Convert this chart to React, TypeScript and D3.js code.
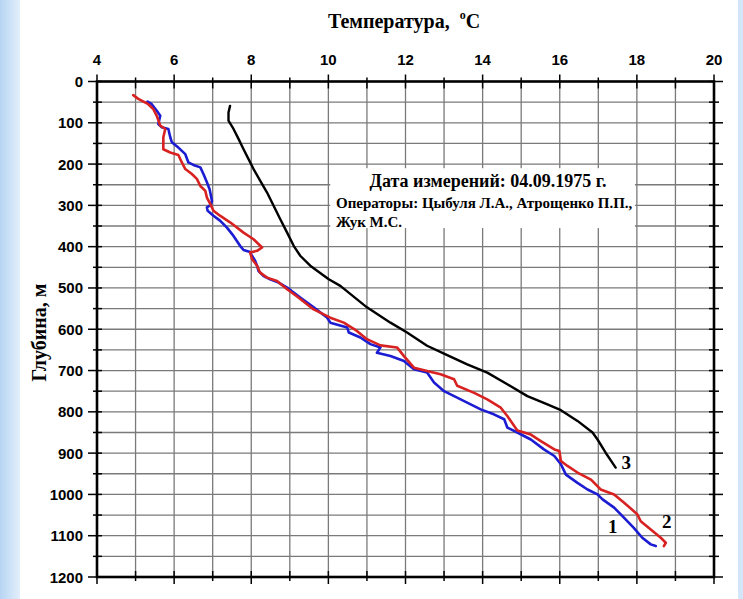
import React, { useEffect, useRef } from "react";
import * as d3 from "d3";

// Curve 1 (blue): [temperature °C, depth m]
const series1: [number, number][] = [
  [5.31, 49], [5.42, 55], [5.55, 71], [5.64, 83], [5.59, 103], [5.68, 111], [5.85, 115],
  [5.9, 135], [5.94, 147], [6.11, 160], [6.29, 176], [6.37, 196], [6.5, 202], [6.68, 208],
  [6.76, 224], [6.85, 244], [6.92, 261], [6.98, 289], [6.95, 299], [6.85, 305], [6.87, 313],
  [7.02, 325], [7.19, 337], [7.37, 354], [7.54, 374], [7.71, 398], [7.8, 408], [7.97, 413],
  [8.02, 422], [8.1, 434], [8.15, 446], [8.19, 459], [8.32, 471], [8.49, 479], [8.71, 487],
  [8.93, 499], [9.27, 523], [9.62, 547], [9.97, 572], [10.05, 584], [10.49, 596], [10.53, 608],
  [10.83, 620], [11.09, 636], [11.35, 644], [11.26, 657], [11.61, 665], [11.96, 677],
  [12.22, 697], [12.56, 705], [12.74, 729], [13.0, 750], [13.43, 770], [13.95, 794],
  [14.29, 806], [14.56, 818], [14.64, 838], [14.9, 850], [15.25, 867], [15.59, 891],
  [15.86, 907], [16.03, 927], [16.16, 952], [16.46, 972], [16.72, 988], [16.98, 1000],
  [17.11, 1012], [17.41, 1032], [17.67, 1057], [17.92, 1081], [18.14, 1105], [18.36, 1121],
  [18.49, 1125],
];

// Curve 2 (red)
const series2: [number, number][] = [
  [4.94, 33], [5.07, 42], [5.33, 55], [5.46, 67], [5.55, 83], [5.64, 107], [5.77, 115],
  [5.72, 135], [5.72, 164], [5.9, 172], [6.11, 178], [6.2, 196], [6.29, 212], [6.46, 224],
  [6.59, 236], [6.68, 253], [6.81, 265], [6.85, 281], [6.94, 297], [7.02, 313], [7.19, 325],
  [7.45, 341], [7.8, 366], [8.06, 382], [8.28, 402], [8.15, 410], [7.97, 414], [8.02, 430],
  [8.15, 446], [8.23, 463], [8.41, 475], [8.67, 483], [8.93, 503], [9.18, 520], [9.62, 552],
  [10.05, 572], [10.4, 584], [10.74, 604], [11.0, 624], [11.35, 639], [11.78, 644],
  [11.96, 665], [12.22, 693], [12.56, 701], [12.91, 709], [13.26, 721], [13.34, 737],
  [13.78, 754], [14.12, 770], [14.47, 790], [14.64, 810], [14.9, 845], [15.25, 855],
  [15.51, 871], [15.86, 891], [15.99, 895], [16.03, 919], [16.2, 931], [16.46, 947],
  [16.81, 964], [17.06, 988], [17.41, 1000], [17.67, 1020], [18.01, 1048], [18.1, 1065],
  [18.36, 1085], [18.62, 1105], [18.75, 1117], [18.7, 1125],
];

// Curve 3 (black)
const series3: [number, number][] = [
  [7.45, 59], [7.41, 75], [7.41, 95], [7.54, 115], [7.67, 139], [7.8, 164], [7.93, 188],
  [8.06, 212], [8.23, 240], [8.41, 269], [8.58, 301], [8.75, 333], [8.93, 366], [9.1, 398],
  [9.27, 422], [9.53, 446], [10.01, 479], [10.31, 495], [11.0, 547], [11.61, 584],
  [12.04, 608], [12.56, 640], [13.04, 661], [13.6, 685], [14.12, 705], [14.64, 733],
  [15.16, 762], [15.68, 782], [16.03, 796], [16.46, 822], [16.85, 850], [16.98, 867],
  [17.19, 899], [17.45, 935],
];

const tempTicks = [4, 6, 8, 10, 12, 14, 16, 18, 20];
const depthTicks = [0, 100, 200, 300, 400, 500, 600, 700, 800, 900, 1000, 1100, 1200];

const xTitle = "Температура,";
const yTitle = "Глубина, м";
const noteLines = [
  "Дата измерений: 04.09.1975 г.",
  "Операторы: Цыбуля Л.А., Атрощенко П.П.,",
  "Жук М.С.",
];
const curveLabels = [
  { text: "1", t: 17.25, d: 1093 },
  { text: "2", t: 18.65, d: 1081 },
  { text: "3", t: 17.6, d: 938 },
];

const W = 743;
const H = 599;

export default function App() {
  const ref = useRef<SVGSVGElement>(null);

  useEffect(() => {
    const svg = d3.select(ref.current);
    svg.selectAll("*").remove();

    const x = d3.scaleLinear().domain([4, 20]).range([97, 714]);
    const y = d3.scaleLinear().domain([0, 1200]).range([81.5, 577]);

    // background
    const defs = svg.append("defs");
    const grad = defs.append("linearGradient").attr("id", "bgL").attr("x1", 0).attr("x2", 1);
    grad.append("stop").attr("offset", 0).attr("stop-color", "#b7d5f3");
    grad.append("stop").attr("offset", 1).attr("stop-color", "#e3effb");
    svg.append("rect").attr("width", W).attr("height", H).attr("fill", "#ffffff");
    svg.append("rect").attr("x", 0).attr("y", 0).attr("width", 20).attr("height", H).attr("fill", "url(#bgL)");
    svg.append("rect").attr("x", 738).attr("y", 0).attr("width", 5).attr("height", H).attr("fill", "#d2e5f9");

    const minorT = d3.range(4, 21, 1);
    const minorD = d3.range(0, 1201, 50);

    // grid
    const grid = svg.append("g").attr("stroke", "#7a7a7a").attr("stroke-width", 1.3);
    grid.selectAll("line.v").data(minorT.slice(1, -1)).join("line")
      .attr("x1", (d) => x(d)).attr("x2", (d) => x(d))
      .attr("y1", y(0)).attr("y2", y(1200));
    grid.selectAll("line.h").data(minorD.slice(1, -1)).join("line")
      .attr("x1", x(4)).attr("x2", x(20))
      .attr("y1", (d) => y(d)).attr("y2", (d) => y(d));

    // ticks
    const ticks = svg.append("g").attr("stroke", "#000").attr("stroke-width", 1.5);
    ticks.selectAll("line.tt").data(minorT).join("line")
      .attr("x1", (d) => x(d)).attr("x2", (d) => x(d))
      .attr("y1", (d) => y(0) - (d % 2 === 0 ? 7 : 4)).attr("y2", y(0) + 7);
    ticks.selectAll("line.tb").data(minorT).join("line")
      .attr("class", "tb")
      .attr("x1", (d) => x(d)).attr("x2", (d) => x(d))
      .attr("y1", y(1200) - 6).attr("y2", (d) => y(1200) + (d % 2 === 0 ? 7 : 4));
    ticks.selectAll("line.tl").data(minorD).join("line")
      .attr("class", "tl")
      .attr("x1", (d) => x(4) - (d % 100 === 0 ? 9 : 4)).attr("x2", x(4) + 5)
      .attr("y1", (d) => y(d)).attr("y2", (d) => y(d));
    ticks.selectAll("line.tr").data(minorD).join("line")
      .attr("class", "tr")
      .attr("x1", x(20) - 5).attr("x2", (d) => x(20) + (d % 100 === 0 ? 9 : 5))
      .attr("y1", (d) => y(d)).attr("y2", (d) => y(d));

    // frame
    svg.append("rect")
      .attr("x", x(4)).attr("y", y(0))
      .attr("width", x(20) - x(4)).attr("height", y(1200) - y(0))
      .attr("fill", "none").attr("stroke", "#000").attr("stroke-width", 2.6);

    // tick labels
    svg.append("g").selectAll("text").data(tempTicks).join("text")
      .attr("x", (d) => x(d)).attr("y", 65)
      .attr("text-anchor", "middle")
      .attr("font-family", "Liberation Sans, Arial, sans-serif")
      .attr("font-weight", "bold").attr("font-size", 15)
      .text((d) => String(d));
    svg.append("g").selectAll("text").data(depthTicks).join("text")
      .attr("x", 83).attr("y", (d) => y(d) + 5.5)
      .attr("text-anchor", "end")
      .attr("font-family", "Liberation Sans, Arial, sans-serif")
      .attr("font-weight", "bold").attr("font-size", 15)
      .text((d) => String(d));

    // titles
    const tt = svg.append("text")
      .attr("x", 404).attr("y", 28)
      .attr("text-anchor", "middle")
      .attr("font-family", "Liberation Serif, Times New Roman, serif")
      .attr("font-weight", "bold").attr("font-size", 20);
    tt.append("tspan").text(xTitle + "\u00a0\u00a0");
    tt.append("tspan").attr("font-size", 12).attr("dy", -9).text("o");
    tt.append("tspan").attr("dy", 9).text("C");

    svg.append("text")
      .attr("transform", `translate(46, ${y(608)}) rotate(-90)`)
      .attr("text-anchor", "middle")
      .attr("font-family", "Liberation Serif, Times New Roman, serif")
      .attr("font-weight", "bold").attr("font-size", 20)
      .text(yTitle);

    // annotation box
    svg.append("rect")
      .attr("x", x(10.05)).attr("y", y(210))
      .attr("width", x(17.95) - x(10.05)).attr("height", y(355) - y(210))
      .attr("fill", "#fff");
    const note = svg.append("g")
      .attr("font-family", "Liberation Serif, Times New Roman, serif")
      .attr("font-weight", "bold");
    note.append("text").attr("x", 488).attr("y", 187).attr("text-anchor", "middle")
      .attr("font-size", 18).text(noteLines[0]);
    note.append("text").attr("x", 336).attr("y", 208)
      .attr("font-size", 15).text(noteLines[1]);
    note.append("text").attr("x", 336).attr("y", 227)
      .attr("font-size", 15).text(noteLines[2]);

    // curves
    const line = d3.line<[number, number]>()
      .x((d) => x(d[0])).y((d) => y(d[1]))
      .curve(d3.curveLinear);
    const curves = [
      { data: series1, color: "#1c1cd2", w: 2.6 },
      { data: series2, color: "#d82222", w: 2.6 },
      { data: series3, color: "#000", w: 2.4 },
    ];
    svg.append("g").selectAll("path").data(curves).join("path")
      .attr("d", (c) => line(c.data) as string)
      .attr("fill", "none")
      .attr("stroke", (c) => c.color)
      .attr("stroke-width", (c) => c.w)
      .attr("stroke-linejoin", "round")
      .attr("stroke-linecap", "round");

    // curve labels
    svg.append("g").selectAll("text").data(curveLabels).join("text")
      .attr("x", (d) => x(d.t)).attr("y", (d) => y(d.d))
      .attr("font-family", "Liberation Serif, Times New Roman, serif")
      .attr("font-weight", "bold").attr("font-size", 19)
      .text((d) => d.text);
  }, []);

  return (
    <div style={{ position: "fixed", left: 0, top: 0, width: W, height: H }}>
      <svg ref={ref} width={W} height={H} style={{ display: "block" }} />
    </div>
  );
}
